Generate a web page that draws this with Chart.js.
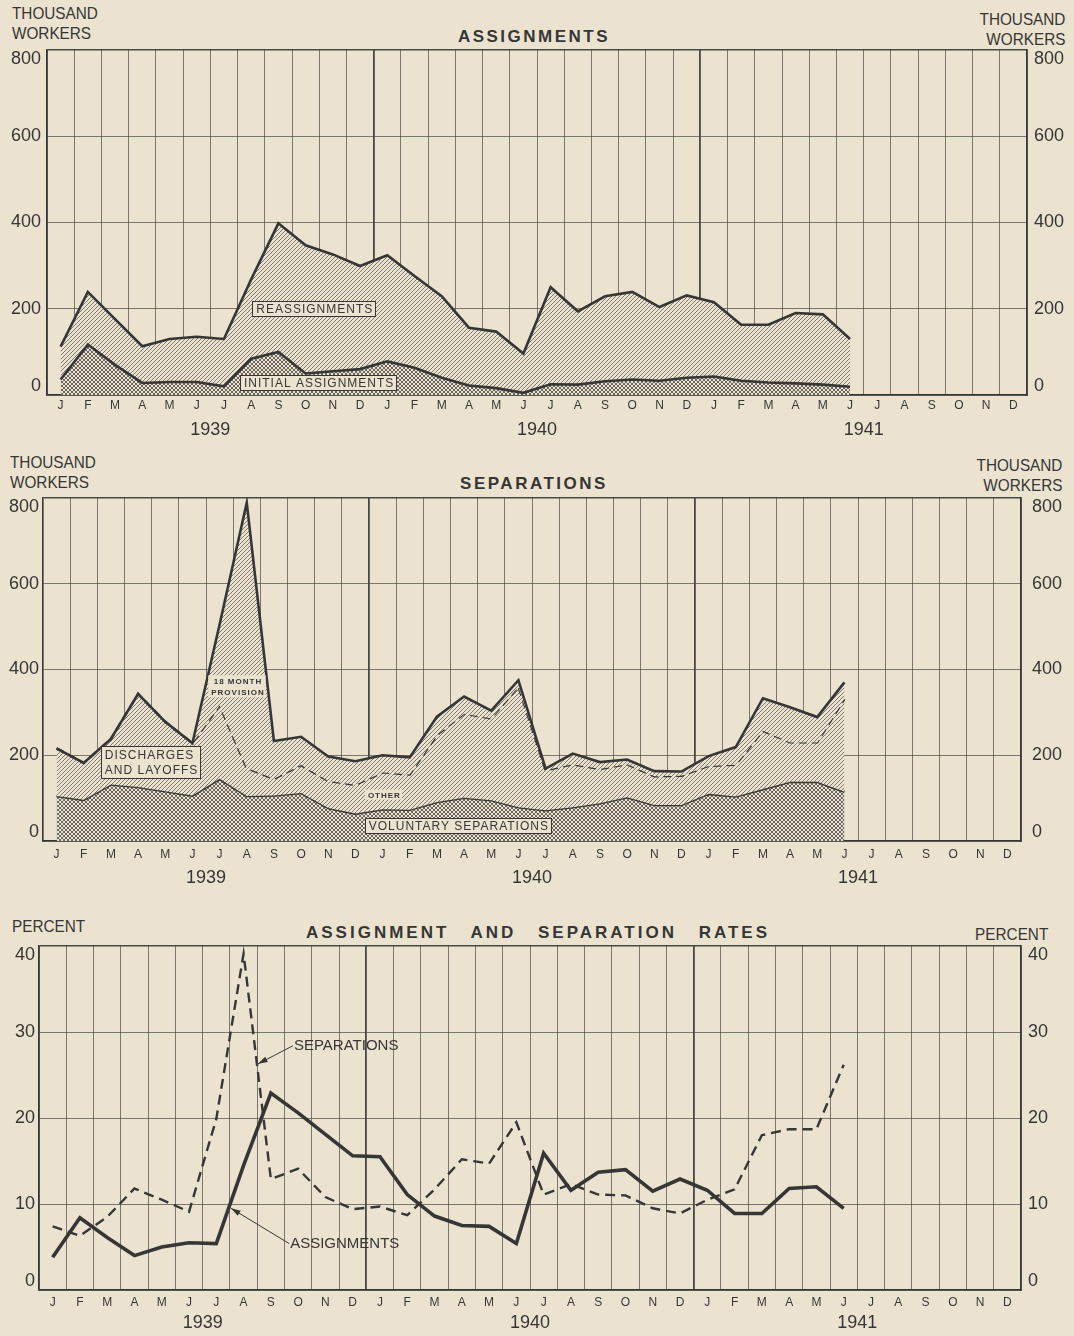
<!DOCTYPE html>
<html lang="en">
<head>
<meta charset="UTF-8">
<title>Assignments and separations 1939-1941</title>
<script src="https://cdn.jsdelivr.net/npm/chart.js"></script>
<style>
  body { margin: 0; width: 1074px; height: 1336px; position: relative; overflow: hidden;
         background: #ebe3cf; color: #363636; font-family: "Liberation Sans", sans-serif; }
  canvas { position: absolute; left: 0; }
  .unit { position: absolute; font-size: 17px; line-height: 20px; white-space: pre;
          transform: scaleX(0.9); transform-origin: left top; }
  .unit.r { text-align: right; transform-origin: right top; }
  .title { position: absolute; font-weight: bold; font-size: 17px;
           line-height: 20px; letter-spacing: 2.5px; white-space: pre; transform: translateX(-50%); }
</style>
</head>
<body>
<div class="unit" style="left:12px;top:4px">THOUSAND
WORKERS</div>
<div class="unit r" style="right:9px;top:10px">THOUSAND
WORKERS</div>
<div class="title" style="left:534px;top:27px">ASSIGNMENTS</div>
<canvas id="c1" width="1074" height="440" style="top:0"></canvas>

<div class="unit" style="left:10px;top:453px">THOUSAND
WORKERS</div>
<div class="unit r" style="right:12px;top:456px">THOUSAND
WORKERS</div>
<div class="title" style="left:534px;top:474px">SEPARATIONS</div>
<canvas id="c2" width="1074" height="448" style="top:440px"></canvas>

<div class="unit" style="left:12px;top:917px">PERCENT</div>
<div class="unit r" style="right:26px;top:925px">PERCENT</div>
<div class="title" style="left:538px;top:923px;letter-spacing:3px;word-spacing:14px">ASSIGNMENT AND SEPARATION RATES</div>
<canvas id="c3" width="1074" height="448" style="top:888px"></canvas>

<script>
// months Jan 1939 - Dec 1941, data runs Jan 1939 - Jun 1941
const monthLetters = ['J','F','M','A','M','J','J','A','S','O','N','D'];
const months = monthLetters.concat(monthLetters, monthLetters);
const years = ['1939', '1940', '1941'];

// thousand workers
const asgTotal = [112, 239, 176, 113, 130, 135, 130, 268, 398, 347, 326, 299,
                  324, 276, 229, 156, 147, 96, 250, 194, 229, 239, 204, 231,
                  215, 163, 163, 190, 187, 130];
const asgInitial = [36, 117, 70, 28, 30, 30, 20, 84, 100, 50, 55, 60,
                    78, 63, 40, 22, 16, 5, 25, 24, 32, 36, 33, 40,
                    43, 33, 29, 27, 24, 19];

const sepTotal = [216, 182, 238, 343, 278, 228, 505, 789, 233, 243, 197, 186,
                  200, 195, 290, 337, 304, 375, 169, 204, 184, 190, 163, 162,
                  198, 219, 333, 312, 289, 370];
// voluntary + other discharges (dashed line)
const sepOther = [216, 182, 238, 343, 278, 228, 316, 170, 145, 177, 140, 131,
                  160, 155, 247, 297, 286, 360, 165, 179, 168, 179, 151, 152,
                  175, 178, 257, 230, 230, 331];
const sepVoluntary = [105, 96, 132, 126, 116, 106, 145, 105, 106, 112, 77, 64,
                      74, 73, 91, 101, 95, 79, 72, 79, 88, 102, 84, 84,
                      110, 104, 121, 138, 138, 115];

// percent
const rateAssign = [3.8, 8.4, 6.1, 4.0, 5.0, 5.5, 5.4, 14.5, 22.9, 20.6, 18.1, 15.6,
                    15.5, 11.1, 8.6, 7.5, 7.4, 5.4, 15.9, 11.6, 13.7, 14.0, 11.5, 12.9,
                    11.6, 8.9, 8.9, 11.8, 12.0, 9.5];
const rateSep = [7.4, 6.3, 8.5, 11.8, 10.5, 9.1, 19.9, 39.1, 12.9, 14.1, 10.8, 9.4,
                 9.7, 8.7, 11.7, 15.2, 14.7, 19.5, 11.1, 12.3, 11.1, 11.0, 9.5, 8.9,
                 10.5, 11.7, 18.0, 18.7, 18.7, 26.2];

const PAPER = '#ebe3cf';
const INK = '#363636';
const PLAIN = '"Liberation Sans", sans-serif';

function hatch(ctx) {
  const c = document.createElement('canvas');
  c.width = 4; c.height = 4;
  const g = c.getContext('2d');
  g.fillStyle = PAPER; g.fillRect(0, 0, 4, 4);
  g.strokeStyle = '#726d64'; g.lineWidth = 0.9;
  g.beginPath();
  g.moveTo(0, 4); g.lineTo(4, 0);
  g.moveTo(-1, 1); g.lineTo(1, -1);
  g.moveTo(3, 5); g.lineTo(5, 3);
  g.stroke();
  return ctx.createPattern(c, 'repeat');
}

function cross(ctx) {
  const c = document.createElement('canvas');
  c.width = 4; c.height = 4;
  const g = c.getContext('2d');
  g.fillStyle = PAPER; g.fillRect(0, 0, 4, 4);
  g.strokeStyle = '#5c5953'; g.lineWidth = 0.9;
  g.beginPath();
  g.moveTo(0, 4); g.lineTo(4, 0);
  g.moveTo(-1, 1); g.lineTo(1, -1);
  g.moveTo(3, 5); g.lineTo(5, 3);
  g.moveTo(0, 0); g.lineTo(4, 4);
  g.moveTo(-1, 3); g.lineTo(1, 5);
  g.moveTo(3, -1); g.lineTo(5, 1);
  g.stroke();
  return ctx.createPattern(c, 'repeat');
}

// labels and arrows written inside the plot
const notesPlugin = {
  id: 'notes',
  afterDatasetsDraw(chart, args, opts) {
    const ctx = chart.ctx, xs = chart.scales.x, ys = chart.scales.y;
    (opts.items || []).forEach(n => {
      const x = xs.getPixelForValue(n.i), y = ys.getPixelForValue(n.v);
      ctx.save();
      ctx.font = n.font;
      ctx.letterSpacing = n.spacing || '0px';
      ctx.textBaseline = 'middle';
      if (n.tip) {
        const tx = xs.getPixelForValue(n.tip[0]), ty = ys.getPixelForValue(n.tip[1]);
        ctx.strokeStyle = INK; ctx.fillStyle = INK; ctx.lineWidth = 1;
        ctx.beginPath(); ctx.moveTo(x, y); ctx.lineTo(tx, ty); ctx.stroke();
        const a = Math.atan2(ty - y, tx - x);
        ctx.beginPath();
        ctx.moveTo(tx, ty);
        ctx.lineTo(tx - 10 * Math.cos(a - 0.3), ty - 10 * Math.sin(a - 0.3));
        ctx.lineTo(tx - 10 * Math.cos(a + 0.3), ty - 10 * Math.sin(a + 0.3));
        ctx.closePath(); ctx.fill();
        ctx.textAlign = 'left';
        ctx.fillText(n.text[0], x + 1, y);
      } else {
        const lh = n.lh;
        const w = Math.max(...n.text.map(t => ctx.measureText(t).width));
        const h = lh * n.text.length;
        const bw = w + 2 * n.px, bh = h + 2 * n.py;
        const left = x - bw / 2, top = y - bh / 2;
        ctx.fillStyle = PAPER;
        ctx.fillRect(left, top, bw, bh);
        if (n.border) {
          ctx.strokeStyle = INK; ctx.lineWidth = 1;
          ctx.strokeRect(Math.round(left) + 0.5, Math.round(top) + 0.5, Math.round(bw), Math.round(bh));
        }
        ctx.fillStyle = INK;
        ctx.textAlign = 'left';
        n.text.forEach((t, k) => {
          const tw = ctx.measureText(t).width;
          const tx = n.align === 'left' ? left + n.px : x - tw / 2;
          ctx.fillText(t, tx + 1, top + n.py + lh * (k + 0.5) + 1);
        });
      }
      ctx.restore();
    });
  }
};

// top label pushed down, bottom label pushed up, like the printed scale
function edgeLabel(yMax) {
  return v => v === yMax ? ['', String(v)] : v === 0 ? ['0', ''] : String(v);
}

function makePanel(id, f, yMax, yStep, datasets, notes) {
  const canvas = document.getElementById(id);
  const H = canvas.height;
  const gridLine = '#4a4843';
  const tickFont = { family: PLAIN, size: 18, lineHeight: 1.0 };
  return new Chart(canvas, {
    type: 'line',
    data: { labels: months, datasets: datasets(canvas.getContext('2d')) },
    plugins: [notesPlugin],
    options: {
      responsive: false,
      animation: false,
      layout: { padding: { top: f.top, bottom: 0, left: 0, right: 0 } },
      elements: { point: { radius: 0 }, line: { tension: 0, borderJoinStyle: 'miter' } },
      plugins: { legend: { display: false }, tooltip: { enabled: false }, notes: { items: notes } },
      scales: {
        x: {
          type: 'category', position: 'bottom', offset: true,
          grid: { offset: true, drawTicks: false, color: gridLine,
                  lineWidth: c => (c.index === 12 || c.index === 24) ? 1.8 : 0.7 },
          border: { color: INK, width: 1.6 },
          ticks: { autoSkip: false, maxRotation: 0, padding: f.mPad, color: INK,
                   font: { family: PLAIN, size: 12 } },
          afterFit: s => { s.height = 20; }
        },
        yr: {
          type: 'category', labels: years, position: 'bottom', offset: true, weight: 1,
          grid: { display: false }, border: { display: false },
          ticks: { padding: f.yPad, color: INK, font: { family: PLAIN, size: 18 } },
          afterFit: s => { s.height = H - f.bottom - 20; }
        },
        y: {
          position: 'left', min: 0, max: yMax,
          grid: { drawTicks: false, color: gridLine,
                  lineWidth: c => c.tick && c.tick.value === yMax ? 1.6 : 0.7 },
          border: { color: INK, width: 1.6 },
          ticks: { stepSize: yStep, padding: f.lPad, color: INK, font: tickFont, callback: edgeLabel(yMax) },
          afterFit: s => { s.width = f.left; }
        },
        y2: {
          position: 'right', min: 0, max: yMax,
          grid: { display: false, drawTicks: false },
          border: { color: INK, width: 1.6 },
          ticks: { stepSize: yStep, padding: f.rPad, color: INK, font: tickFont, callback: edgeLabel(yMax) },
          afterFit: s => { s.width = 1074 - f.right; }
        }
      }
    }
  });
}

const boxFont = '12px ' + PLAIN;
const smallFont = 'bold 8px ' + PLAIN;

makePanel('c1', { top: 50, bottom: 395, left: 47, right: 1027, mPad: 3, yPad: -4, lPad: 6, rPad: 7 }, 800, 200,
  ctx => [
    { label: 'Initial assignments', data: asgInitial, borderColor: INK, borderWidth: 2.6,
      backgroundColor: cross(ctx), fill: 'origin' },
    { label: 'Total assignments', data: asgTotal, borderColor: INK, borderWidth: 2.6,
      backgroundColor: hatch(ctx), fill: 0 }
  ],
  [
    { text: ['REASSIGNMENTS'], i: 9.3, v: 200, font: boxFont, spacing: '1px', lh: 13, px: 3, py: 1, border: true },
    { text: ['INITIAL ASSIGNMENTS'], i: 9.46, v: 29, font: boxFont, spacing: '1px', lh: 13, px: 3, py: 1, border: true }
  ]);

makePanel('c2', { top: 58, bottom: 401, left: 43, right: 1021, mPad: 6, yPad: -2, lPad: 4, rPad: 11 }, 800, 200,
  ctx => [
    { label: 'Total separations', data: sepTotal, borderColor: INK, borderWidth: 2.6,
      backgroundColor: hatch(ctx), fill: 1 },
    { label: 'Voluntary and other', data: sepOther, borderColor: INK, borderWidth: 2.4,
      borderDash: [8, 5], backgroundColor: hatch(ctx), fill: 2 },
    { label: 'Voluntary separations', data: sepVoluntary, borderColor: INK, borderWidth: 2.6,
      backgroundColor: cross(ctx), fill: 'origin' }
  ],
  [
    { text: ['DISCHARGES', 'AND LAYOFFS'], i: 3.46, v: 184, font: boxFont, spacing: '1px', lh: 15, px: 3, py: 1, border: true, align: 'left' },
    { text: ['18 MONTH', 'PROVISION'], i: 6.64, v: 361, font: smallFont, spacing: '1px', lh: 11, px: 2, py: 0 },
    { text: ['OTHER'], i: 12.03, v: 108, font: smallFont, spacing: '1px', lh: 10, px: 2, py: 0 },
    { text: ['VOLUNTARY SEPARATIONS'], i: 14.77, v: 36, font: boxFont, spacing: '1px', lh: 13, px: 3, py: 1, border: true }
  ]);

makePanel('c3', { top: 58, bottom: 402, left: 39, right: 1021, mPad: 5, yPad: -6, lPad: 4, rPad: 7 }, 40, 10,
  ctx => [
    { label: 'Assignments', data: rateAssign, borderColor: INK, borderWidth: 3.6, fill: false },
    { label: 'Separations', data: rateSep, borderColor: INK, borderWidth: 2.4, borderDash: [10, 6], fill: false }
  ],
  [
    { text: ['SEPARATIONS'], i: 8.81, v: 28.4, tip: [7.53, 26.3], font: '15px ' + PLAIN, spacing: '0px' },
    { text: ['ASSIGNMENTS'], i: 8.67, v: 5.4, tip: [6.54, 9.5], font: '15px ' + PLAIN, spacing: '0px' }
  ]);
</script>
</body>
</html>
